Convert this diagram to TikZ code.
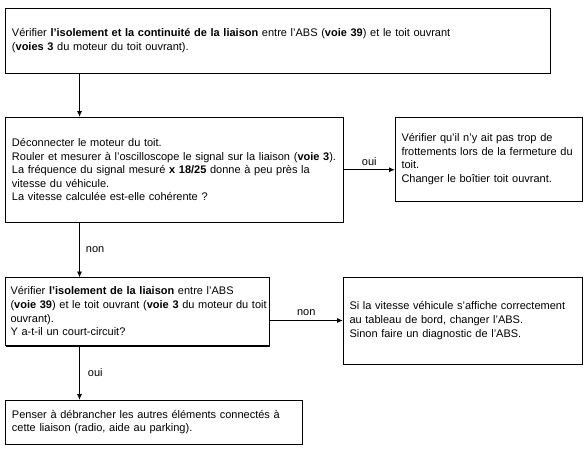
\documentclass[tikz,border=0pt]{standalone}
\usepackage{fontspec}
\setmainfont{Liberation Sans}
\usetikzlibrary{arrows.meta,calc}
\begin{document}
\begin{tikzpicture}[x=1pt,y=-1pt,
  box/.style={draw, line width=0.9pt, anchor=north west, align=left,
    inner xsep=6.5pt, inner ysep=2pt, outer sep=0pt,
    font=\fontsize{11}{13.6}\selectfont},
  arr/.style={draw, line width=0.9pt, -{Latex[length=6pt,width=5pt]}},
  lbl/.style={font=\fontsize{11}{13}\selectfont, inner sep=1pt}]
\useasboundingbox[fill=white] (0,0) rectangle (588,455);
\node[box, text width=531.5pt, minimum height=64.5pt] (b1) at (5.5,8.5)
  {Vérifier \textbf{l’isolement et la continuité de la liaison} entre l’ABS (\textbf{voie 39}) et le toit ouvrant\\(\textbf{voies 3} du moteur du toit ouvrant).};
\node[box, text width=325pt, minimum height=105.5pt] (b2) at (5.5,117)
  {Déconnecter le moteur du toit.\\\mbox{Rouler et mesurer à l’oscilloscope le signal sur la liaison (\textbf{voie 3}).}\\La fréquence du signal mesuré \textbf{x 18/25} donne à peu près la\\vitesse du véhicule.\\La vitesse calculée est-elle cohérente ?};
\node[box, text width=174pt, minimum height=84pt] (b3) at (395,117)
  {Vérifier qu’il n’y ait pas trop de\\frottements lors de la fermeture du\\toit.\\Changer le boîtier toit ouvrant.};
\node[box, inner xsep=5pt, text width=254pt, minimum height=67.5pt] (b4) at (5.5,277.5)
  {Vérifier \textbf{l’isolement de la liaison} entre l’ABS\\\mbox{(\textbf{voie 39}) et le toit ouvrant (\textbf{voie 3} du moteur du toit}\\ouvrant).\\Y a-t-il un court-circuit?};
\node[box, text width=226pt, minimum height=87pt] (b5) at (343,277)
  {Si la vitesse véhicule s’affiche correctement\\au tableau de bord, changer l’ABS.\\Sinon faire un diagnostic de l’ABS.};
\node[box, text width=283.5pt, minimum height=44.5pt] (b6) at (5.5,400)
  {Penser à débrancher les autres éléments connectés à\\cette liaison (radio, aide au parking).};
\draw[line width=2.4pt] ($(b4.south west)+(0,0.8)$) -- ($(b4.south east)+(0,0.8)$);
\coordinate (cx) at (79.5,0);
\draw[arr] (cx |- b1.south) -- (cx |- b2.north);
\draw[arr] (cx |- b2.south) -- node[lbl, right=5pt] {non} (cx |- b4.north);
\draw[arr] (cx |- b4.south) -- node[lbl, right=7pt] {oui} (cx |- b6.north);
\draw[arr] (b2.east) -- node[lbl, above=3pt] {oui} (b3.west |- b2.east);
\draw[arr] (b4.east |- b5.west) -- node[lbl, above=3pt] {non} (b5.west);
\end{tikzpicture}
\end{document}
